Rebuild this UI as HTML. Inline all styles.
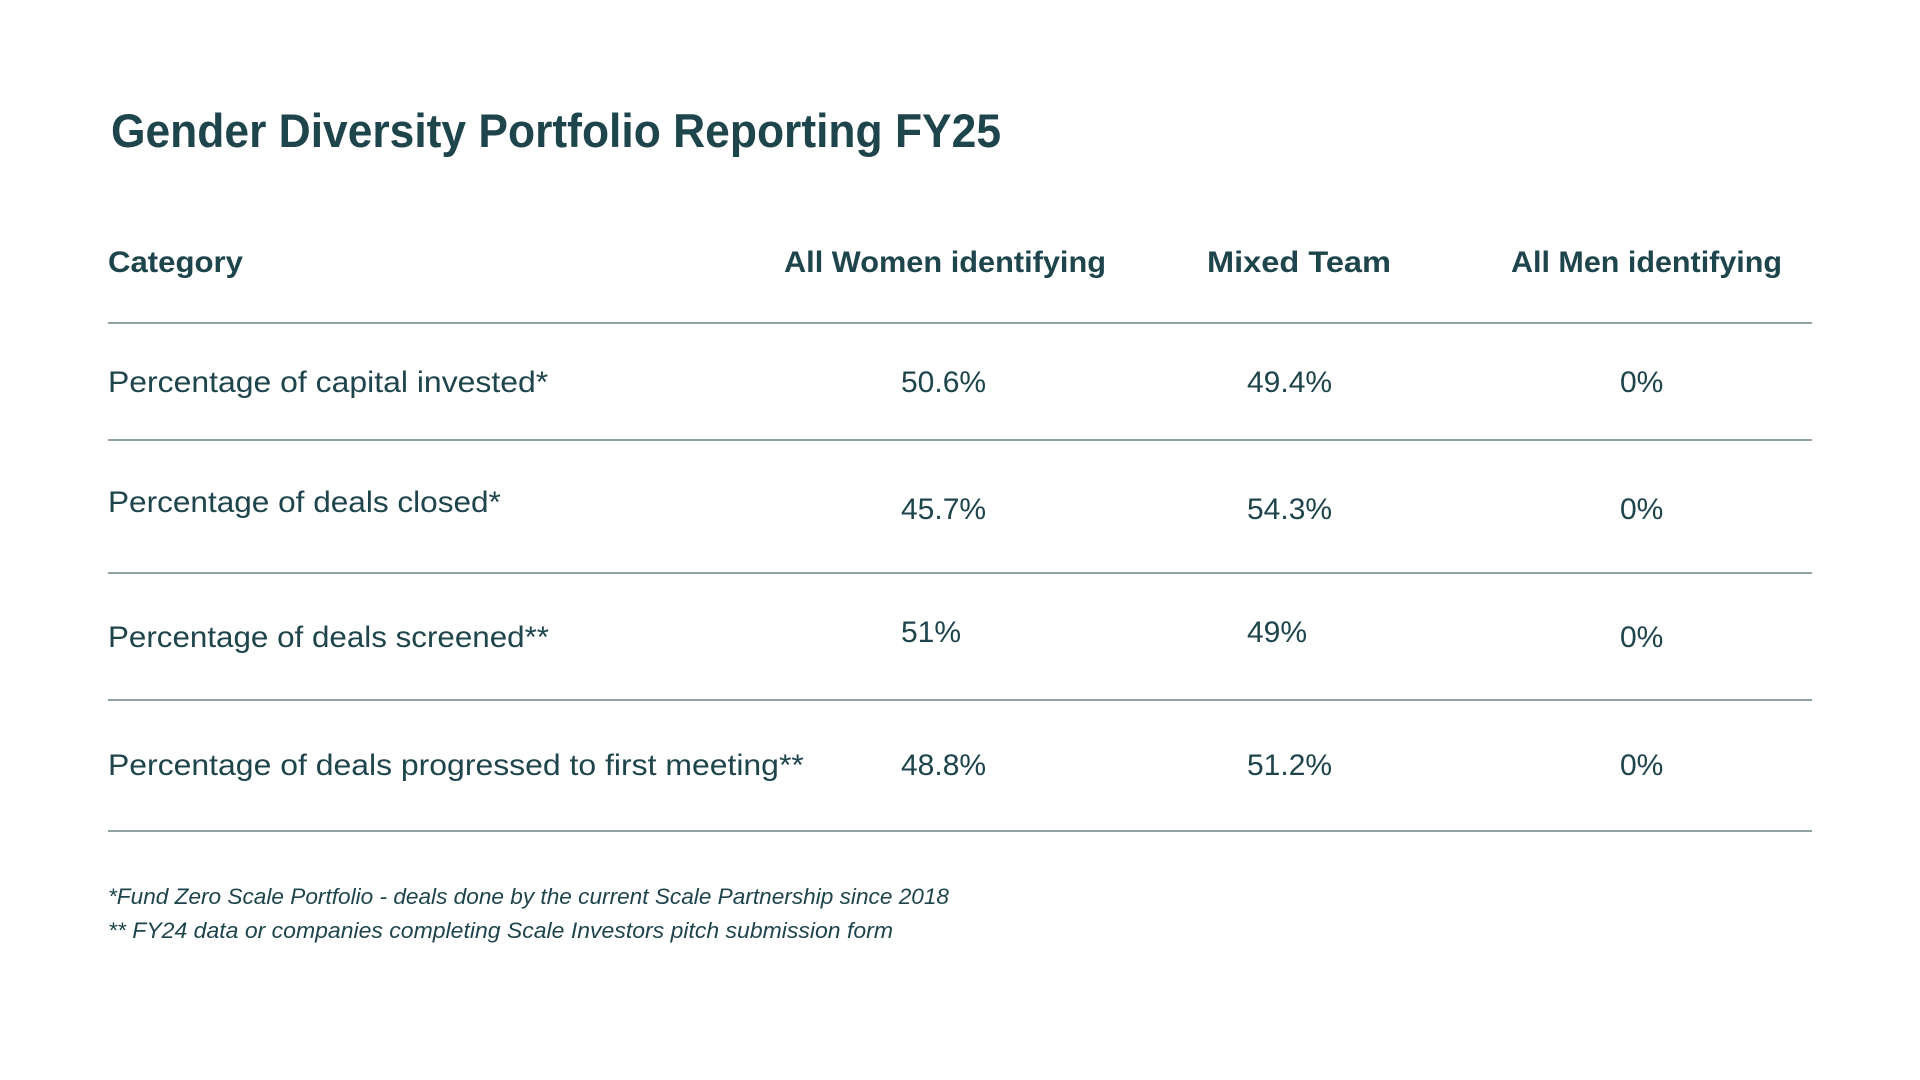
<!DOCTYPE html>
<html><head><meta charset="utf-8"><style>
html,body{margin:0;padding:0;background:#fff;width:1920px;height:1080px;overflow:hidden}
svg{display:block}
text{font-family:"Liberation Sans",sans-serif;fill:#1e444c}
</style></head><body>
<svg width="1920" height="1080" viewBox="0 0 1920 1080">
<text x="111" y="147" font-size="47" font-weight="bold" textLength="890" lengthAdjust="spacingAndGlyphs">Gender Diversity Portfolio Reporting FY25</text>
<g id="hdr" font-weight="bold" font-size="30"></g>
<g id="lines"></g>
<g id="rows" font-size="30"></g>
<text x="108" y="904" font-size="22" font-style="italic" textLength="841" lengthAdjust="spacingAndGlyphs">*Fund Zero Scale Portfolio - deals done by the current Scale Partnership since 2018</text>
<text x="108" y="938" font-size="22" font-style="italic" textLength="785" lengthAdjust="spacingAndGlyphs">** FY24 data or companies completing Scale Investors pitch submission form</text>
</svg>
<script>
const headers=["Category","All Women identifying","Mixed  Team","All Men identifying"];
const categories=["Percentage of capital invested*","Percentage of deals closed*","Percentage of deals screened**","Percentage of deals progressed to first meeting**"];
const women=["50.6%","45.7%","51%","48.8%"];
const mixed=["49.4%","54.3%","49%","51.2%"];
const men=["0%","0%","0%","0%"];
const NS="http://www.w3.org/2000/svg";
function t(parent,x,y,s,w){const e=document.createElementNS(NS,'text');e.setAttribute('x',x);e.setAttribute('y',y);if(w){e.setAttribute('textLength',w);e.setAttribute('lengthAdjust','spacingAndGlyphs');}e.textContent=s;parent.appendChild(e);return e;}
const hx=[108,784,1207,1511],hw=[135,322,184,271];
const hdr=document.getElementById('hdr');
headers.forEach((h,i)=>{const e=t(hdr,hx[i],272,h,hw[i]);

});
const lineY=[323,440,573,700,831];
const lg=document.getElementById('lines');
lineY.forEach(y=>{const l=document.createElementNS(NS,'line');l.setAttribute('x1',108);l.setAttribute('x2',1812);l.setAttribute('y1',y);l.setAttribute('y2',y);l.setAttribute('stroke','#6d8488');l.setAttribute('stroke-width','1.5');


lg.appendChild(l);});
const rows=document.getElementById('rows');
const labY=[392,512,647,775],valY=[392,519,642,775],menY=[392,519,647,775];
const labScale=[14.2,14.55,14.7,14.2];
categories.forEach((c,i)=>{
 const e=t(rows,108,labY[i],c,c.length*labScale[i]);
 
 
 const a=t(rows,901,valY[i],women[i]);
 
 
 const b=t(rows,1247,valY[i],mixed[i]);
 
 
 const d=t(rows,1620,menY[i],men[i]);
 
 
});
</script>
</body></html>
